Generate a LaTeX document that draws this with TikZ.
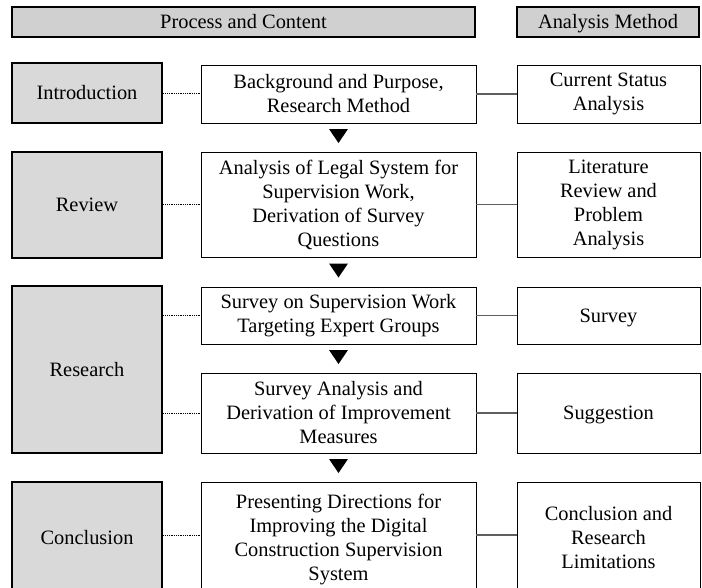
\documentclass[tikz,border=0pt]{standalone}
\usepackage{fontspec}
\setmainfont{Liberation Serif}
\usetikzlibrary{calc}
\definecolor{hdrgray}{RGB}{208,208,208}
\definecolor{stagegray}{RGB}{217,217,217}
\definecolor{linkgray}{RGB}{95,95,95}
\newcommand{\lines}[2][0pt]{\raisebox{#1}{\begin{tabular}{@{}c@{}}#2\end{tabular}}}
\begin{document}
\begin{tikzpicture}[x=1pt,y=-1pt,
  every node/.style={font=\fontsize{20.4}{24}\selectfont, inner sep=0pt, align=center},
  oneline/.style={text height=16pt, text depth=3pt},
  header/.style={draw, line width=2.6pt, fill=hdrgray, oneline},
  stage/.style={draw, line width=2.6pt, fill=stagegray, minimum width=150pt},
  content/.style={draw, line width=0.9pt, fill=white, minimum width=275pt},
  method/.style={draw, line width=0.9pt, fill=white, minimum width=183pt},
  dotlink/.style={line width=0.9pt, dash pattern=on 0.9pt off 0.9pt},
  solidlink/.style={line width=1.1pt, draw=linkgray},
  flowtip/.style={fill=black},
]
\useasboundingbox (0,0) rectangle (702,587);

% column headers
\node[header, minimum width=463pt, minimum height=30pt] (hdrA) at (243.5,22) {Process and Content};
\node[header, minimum width=182pt, minimum height=30pt] (hdrB) at (608,22) {Analysis Method};

% stages
\node[stage, oneline, minimum height=60pt]  (intro)    at (87,93)    {Introduction};
\node[stage, oneline, minimum height=106pt] (review)   at (87,205)   {Review};
\node[stage, oneline, minimum height=167pt] (research) at (87,369.5) {Research};
\node[stage, minimum height=116pt] (concl)    at (87,540)   {\lines[5pt]{Conclusion}};

% process and content
\node[content, minimum height=58pt]  (m1) at (338.5,94)    {Background and Purpose,\\Research Method};
\node[content, minimum height=105pt] (m2) at (338.5,204.5) {Analysis of Legal System for\\Supervision Work,\\Derivation of Survey\\Questions};
\node[content, minimum height=57pt]  (m3) at (338.5,315.5) {Survey on Supervision Work\\Targeting Expert Groups};
\node[content, minimum height=80pt]  (m4) at (338.5,413)   {Survey Analysis and\\Derivation of Improvement\\Measures};
\node[content, minimum height=116pt] (m5) at (338.5,540)   {\lines[6pt]{Presenting Directions for\\Improving the Digital\\Construction Supervision\\System}};

% analysis methods
\node[method, minimum height=58pt]  (r1) at (608.5,94)    {Current Status\\Analysis};
\node[method, minimum height=105pt] (r2) at (608.5,204.5) {Literature\\Review and\\Problem\\Analysis};
\node[method, oneline, minimum height=57pt]  (r3) at (608.5,315.5) {Survey};
\node[method, oneline, minimum height=80pt]  (r4) at (608.5,413)   {Suggestion};
\node[method, minimum height=116pt] (r5) at (608.5,540)   {\lines[6pt]{Conclusion and\\Research\\Limitations}};

% dotted ties from stages to their contents
\draw[dotlink] (intro.east) -- (intro.east -| m1.west);
\draw[dotlink] (review.east |- m2.west) -- (m2.west);
\draw[dotlink] (research.east |- m3.west) -- (m3.west);
\draw[dotlink] (research.east |- m4.west) -- (m4.west);
\draw[dotlink] (concl.east |- 0,535) -- (m5.west |- 0,535);

% solid ties from contents to methods
\draw[solidlink] (m1.east) -- (r1.west);
\draw[solidlink] (m2.east) -- (r2.west);
\draw[solidlink] (m3.east) -- (r3.west);
\draw[solidlink] (m4.east) -- (r4.west);
\draw[solidlink] (m5.east |- 0,535) -- (r5.west |- 0,535);

% flow marks between consecutive contents
\foreach \a/\b/\n in {m1/m2/1, m2/m3/2, m3/m4/3, m4/m5/4} {
  \coordinate (tip\n) at ($(\a.south)!0.5!(\b.north) + (0,-1.5)$);
  \fill[flowtip] ([shift={(-9.5,-7)}]tip\n) -- ([shift={(9.5,-7)}]tip\n) -- ([shift={(0,7)}]tip\n) -- cycle;
}
\end{tikzpicture}
\end{document}
